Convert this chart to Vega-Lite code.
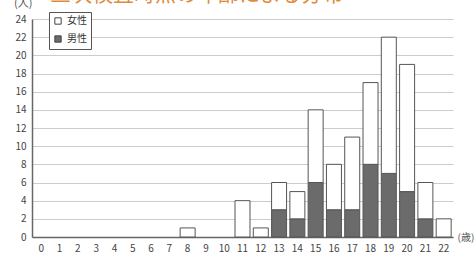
{
  "$schema": "https://vega.github.io/schema/vega-lite/v6.json",
  "autosize": {"type": "none"},
  "width": 421,
  "height": 218,
  "padding": {"left": 32, "top": 19, "right": 23, "bottom": 20},
  "background": "white",
  "title": {
    "text": "三次検査時点の年齢による分布",
    "anchor": "start",
    "frame": "group",
    "dx": 18,
    "dy": 27,
    "offset": 2,
    "fontSize": 21,
    "font": "Noto Sans CJK JP",
    "fontWeight": "normal",
    "color": "#E08A3C",
    "baseline": "alphabetic"
  },
  "data": {
    "values": [
      {"age": "0", "sex": "男性", "n": 0}, {"age": "0", "sex": "女性", "n": 0},
      {"age": "1", "sex": "男性", "n": 0}, {"age": "1", "sex": "女性", "n": 0},
      {"age": "2", "sex": "男性", "n": 0}, {"age": "2", "sex": "女性", "n": 0},
      {"age": "3", "sex": "男性", "n": 0}, {"age": "3", "sex": "女性", "n": 0},
      {"age": "4", "sex": "男性", "n": 0}, {"age": "4", "sex": "女性", "n": 0},
      {"age": "5", "sex": "男性", "n": 0}, {"age": "5", "sex": "女性", "n": 0},
      {"age": "6", "sex": "男性", "n": 0}, {"age": "6", "sex": "女性", "n": 0},
      {"age": "7", "sex": "男性", "n": 0}, {"age": "7", "sex": "女性", "n": 0},
      {"age": "8", "sex": "男性", "n": 0}, {"age": "8", "sex": "女性", "n": 1},
      {"age": "9", "sex": "男性", "n": 0}, {"age": "9", "sex": "女性", "n": 0},
      {"age": "10", "sex": "男性", "n": 0}, {"age": "10", "sex": "女性", "n": 0},
      {"age": "11", "sex": "男性", "n": 0}, {"age": "11", "sex": "女性", "n": 4},
      {"age": "12", "sex": "男性", "n": 0}, {"age": "12", "sex": "女性", "n": 1},
      {"age": "13", "sex": "男性", "n": 3}, {"age": "13", "sex": "女性", "n": 3},
      {"age": "14", "sex": "男性", "n": 2}, {"age": "14", "sex": "女性", "n": 3},
      {"age": "15", "sex": "男性", "n": 6}, {"age": "15", "sex": "女性", "n": 8},
      {"age": "16", "sex": "男性", "n": 3}, {"age": "16", "sex": "女性", "n": 5},
      {"age": "17", "sex": "男性", "n": 3}, {"age": "17", "sex": "女性", "n": 8},
      {"age": "18", "sex": "男性", "n": 8}, {"age": "18", "sex": "女性", "n": 9},
      {"age": "19", "sex": "男性", "n": 7}, {"age": "19", "sex": "女性", "n": 15},
      {"age": "20", "sex": "男性", "n": 5}, {"age": "20", "sex": "女性", "n": 14},
      {"age": "21", "sex": "男性", "n": 2}, {"age": "21", "sex": "女性", "n": 4},
      {"age": "22", "sex": "男性", "n": 0}, {"age": "22", "sex": "女性", "n": 2}
    ]
  },
  "mark": {"type": "bar", "stroke": "#555555", "strokeWidth": 1},
  "transform": [
    {"filter": "datum.n > 0"},
    {"calculate": "datum.sex === '男性' ? 0 : 1", "as": "ord"}
  ],
  "encoding": {
    "x": {
      "field": "age",
      "type": "ordinal",
      "sort": null,
      "scale": {
        "domain": ["0","1","2","3","4","5","6","7","8","9","10","11","12","13","14","15","16","17","18","19","20","21","22"],
        "paddingInner": 0.18,
        "paddingOuter": 0.1
      },
      "axis": {
        "title": "(歳)",
        "titleAnchor": "end",
        "titleAlign": "left",
        "titleBaseline": "middle",
        "titleX": 425,
        "titleY": 0,
        "titleFontSize": 10,
        "titleFontWeight": "normal",
        "titleColor": "#555",
        "labelAngle": 0,
        "labelFontSize": 10,
        "labelColor": "#444",
        "labelPadding": 6,
        "ticks": false,
        "domainColor": "#666",
        "domainWidth": 1.5
      }
    },
    "y": {
      "field": "n",
      "type": "quantitative",
      "aggregate": "sum",
      "stack": "zero",
      "scale": {"domain": [0, 24]},
      "axis": {
        "values": [0, 2, 4, 6, 8, 10, 12, 14, 16, 18, 20, 22, 24],
        "title": "(人)",
        "titleAngle": 0,
        "titleAlign": "right",
        "titleBaseline": "bottom",
        "titleX": 0,
        "titleY": -11,
        "titleFontSize": 11,
        "titleFontWeight": "normal",
        "titleColor": "#555",
        "labelFontSize": 10,
        "labelColor": "#444",
        "labelPadding": 6,
        "ticks": false,
        "domainColor": "#666",
        "domainWidth": 1.5,
        "gridColor": "#cccccc"
      }
    },
    "color": {
      "field": "sex",
      "type": "nominal",
      "scale": {"domain": ["女性", "男性"], "range": ["#ffffff", "#6b6b6b"]},
      "legend": {
        "title": null,
        "orient": "none",
        "legendX": 17,
        "legendY": -7,
        "symbolType": "square",
        "symbolSize": 40,
        "symbolStrokeColor": "#444",
        "symbolStrokeWidth": 1,
        "labelFontSize": 10,
        "labelColor": "#333",
        "strokeColor": "#555",
        "padding": 4,
        "rowPadding": 6,
        "fillColor": "white"
      }
    },
    "order": {"field": "ord", "type": "quantitative"}
  },
  "config": {"view": {"stroke": null}, "font": "Noto Sans CJK JP"}
}
